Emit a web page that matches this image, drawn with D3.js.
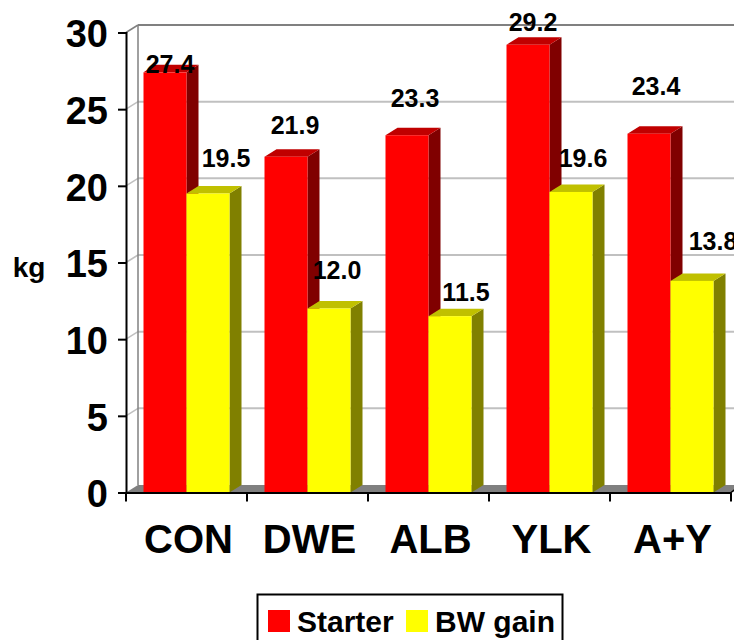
<!DOCTYPE html>
<html>
<head>
<meta charset="utf-8">
<script src="https://cdn.jsdelivr.net/npm/d3@7"></script>
<style>
  html, body { margin: 0; padding: 0; background: #fff; }
  svg { display: block; }
  text { font-family: Arial, "Liberation Sans", sans-serif; font-weight: bold; fill: #000; }
</style>
</head>
<body>
<svg id="chart" width="734" height="640"></svg>
<script>
// ---- data ----
const categories = ["CON", "DWE", "ALB", "YLK", "A+Y"];
const seriesNames = ["Starter", "BW gain"];
const starter = [27.4, 21.9, 23.3, 29.2, 23.4];
const bwGain = [19.5, 12.0, 11.5, 19.6, 13.8];
const yTicks = [0, 5, 10, 15, 20, 25, 30];
const yLabel = "kg";

// ---- layout ----
const W = 734, H = 640;
const plot = { left: 126, right: 731, top: 32.5, bottom: 492.5 };
const DX = 12, DY = 7.5;          // depth offset of the 3-D box
const colors = {
  "Starter": { front: "#ff0000", top: "#c00000", side: "#800000" },
  "BW gain": { front: "#ffff00", top: "#c0c000", side: "#808000" }
};
// value labels sit above each column; per-label shift relative to the front-top centre
const labelShift = {
  "Starter": [[5, 0.5], [9, -22.5], [8, -28.5], [5, -14], [7, -39]],
  "BW gain": [[18, -27], [8, -29.5], [16, -15.5], [12, -25], [21, -31]]
};

const svg = d3.select("#chart");

const x = d3.scaleBand().domain(categories).range([plot.left, plot.right]).padding(0);
const xs = d3.scaleBand().domain(seriesNames).range([17.5, x.bandwidth() - 17.5]).padding(0);
const y = d3.scaleLinear().domain([0, 30]).range([plot.bottom, plot.top]);

const series = seriesNames.map((name, i) => ({
  name,
  values: i === 0 ? starter : bwGain
}));

// ---- walls ----
const walls = svg.append("g");
// back-wall gridlines and the matching diagonals on the side wall
yTicks.filter(v => v > 0).forEach(v => {
  const yy = y(v);
  const strokeCol = v === 30 ? "#808080" : "#c0c0c0";
  walls.append("line")
    .attr("x1", plot.left + DX).attr("x2", W + 20)
    .attr("y1", yy - DY).attr("y2", yy - DY)
    .attr("stroke", strokeCol).attr("stroke-width", 2);
  walls.append("line")
    .attr("x1", plot.left).attr("y1", yy)
    .attr("x2", plot.left + DX).attr("y2", yy - DY)
    .attr("stroke", strokeCol).attr("stroke-width", 1.5);
});
// back edge of the side wall
walls.append("line")
  .attr("x1", plot.left + DX).attr("x2", plot.left + DX)
  .attr("y1", y(30) - DY).attr("y2", y(0) - DY)
  .attr("stroke", "#808080").attr("stroke-width", 1.5);

// floor
walls.append("path")
  .attr("d", d3.line()([
    [plot.left, y(0)], [plot.right, y(0)],
    [plot.right + DX, y(0) - DY], [plot.left + DX, y(0) - DY]
  ]) + "Z")
  .attr("fill", "#808080");

// ---- columns ----
const bars = svg.append("g");
categories.forEach((c, ci) => {
  series.forEach(s => {
    const v = s.values[ci];
    const x0 = x(c) + xs(s.name);
    const x1 = x0 + xs.bandwidth();
    const yt = y(v), yb = y(0);
    const col = colors[s.name];
    // side face
    bars.append("path")
      .attr("d", d3.line()([[x1, yt], [x1 + DX, yt - DY], [x1 + DX, yb - DY], [x1, yb]]) + "Z")
      .attr("fill", col.side);
    // top face
    bars.append("path")
      .attr("d", d3.line()([[x0, yt], [x0 + DX, yt - DY], [x1 + DX, yt - DY], [x1, yt]]) + "Z")
      .attr("fill", col.top);
    // front face
    bars.append("rect")
      .attr("x", x0).attr("y", yt)
      .attr("width", xs.bandwidth()).attr("height", yb - yt)
      .attr("fill", col.front);
  });
});

// ---- axes ----
const yAxis = d3.axisLeft(y).tickValues(yTicks).tickSize(8).tickPadding(10).tickFormat(d3.format("d"));
const gy = svg.append("g").attr("transform", `translate(${plot.left},0)`).call(yAxis);
gy.select(".domain").attr("stroke", "#000").attr("stroke-width", 2);
gy.selectAll(".tick line").attr("stroke", "#000").attr("stroke-width", 2);
gy.selectAll(".tick text")
  .attr("font-size", 38).attr("font-family", null).attr("dy", "0.38em")
  .attr("font-weight", "bold");
gy.attr("font-family", null).attr("font-size", null);

const xAxis = d3.axisBottom(x).tickSize(0).tickPadding(0);
const gx = svg.append("g").attr("transform", `translate(0,${plot.bottom})`).call(xAxis);
gx.attr("font-family", null).attr("font-size", null);
gx.select(".domain").attr("stroke", "#000").attr("stroke-width", 2);
gx.selectAll(".tick text")
  .attr("font-size", 40).attr("dy", 0).attr("y", 60).attr("x", 2);
// category boundary ticks
const edges = categories.map(c => x(c)).concat([x(categories[categories.length - 1]) + x.bandwidth()]);
gx.selectAll("line.edge").data(edges).join("line").attr("class", "edge")
  .attr("x1", d => d).attr("x2", d => d).attr("y1", 0).attr("y2", 9)
  .attr("stroke", "#000").attr("stroke-width", 2);
gx.append("line")
  .attr("x1", plot.right).attr("y1", 0).attr("x2", plot.right + 4).attr("y2", -3)
  .attr("stroke", "#000").attr("stroke-width", 1.5);

// axis title
svg.append("text").attr("x", 29).attr("y", 277).attr("text-anchor", "middle")
  .attr("font-size", 28).text(yLabel);

// ---- value labels ----
const labels = svg.append("g");
categories.forEach((c, ci) => {
  series.forEach(s => {
    const v = s.values[ci];
    const cx = x(c) + xs(s.name) + xs.bandwidth() / 2;
    const sh = labelShift[s.name][ci];
    labels.append("text")
      .attr("x", cx + sh[0]).attr("y", y(v) + sh[1])
      .attr("text-anchor", "middle").attr("font-size", 25)
      .text(d3.format(".1f")(v));
  });
});

// ---- legend ----
const lg = svg.append("g");
lg.append("rect").attr("x", 257.5).attr("y", 594.5).attr("width", 305).attr("height", 60)
  .attr("fill", "#fff").attr("stroke", "#000").attr("stroke-width", 2);
const legendX = [268, 406];
series.forEach((s, i) => {
  lg.append("rect").attr("x", legendX[i]).attr("y", 610).attr("width", 22).attr("height", 22)
    .attr("fill", colors[s.name].front);
  lg.append("text").attr("x", legendX[i] + 29).attr("y", 632).attr("font-size", 30).text(s.name);
});
</script>
</body>
</html>
